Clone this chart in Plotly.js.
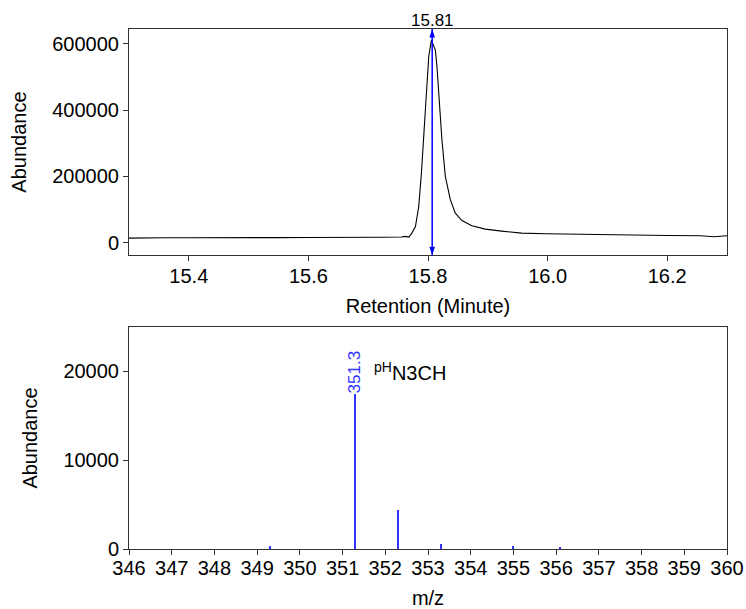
<!DOCTYPE html>
<html>
<head>
<meta charset="utf-8">
<script src="https://cdn.plot.ly/plotly-3.0.1.min.js"></script>
<style>
  html, body { margin: 0; padding: 0; background: #fff; }
  #chart { width: 746px; height: 609px; }
</style>
</head>
<body>
<div id="chart"></div>
<script>
// ---- Chromatogram (top panel) ----
const retentionTime = [
  15.300, 15.330, 15.360, 15.400, 15.450, 15.500, 15.550, 15.600, 15.640, 15.680,
  15.720, 15.755, 15.762, 15.768, 15.773, 15.779, 15.7845, 15.789, 15.7928, 15.7967,
  15.8012, 15.8057, 15.8095, 15.8123, 15.815, 15.819, 15.8233, 15.829, 15.8373, 15.8457,
  15.8567, 15.8733, 15.8957, 15.9233, 15.9567, 15.998, 16.030, 16.062, 16.068, 16.100,
  16.1457, 16.201, 16.256, 16.278, 16.300
];
const chromAbundance = [
  14000, 13500, 15000, 15000, 14500, 16000, 15500, 16000, 15500, 17000,
  16500, 17500, 19000, 17000, 29000, 49000, 109000, 210000, 330000, 451000,
  561000, 611000, 596000, 581000, 531000, 431000, 310000, 200000, 130000, 89000,
  67000, 51000, 41000, 35000, 29000, 27000, 26000, 25000, 26000, 24000,
  22000, 22000, 21000, 18000, 21000
];
const peakTime = 15.807;

// ---- Mass spectrum (bottom panel) ----
const mz = [349.3, 351.3, 352.3, 353.3, 355.0, 356.1];
const msAbundance = [340, 17400, 4430, 600, 300, 180];
const labelledPeak = 351.3;
const compoundLabel = '<sup>pH</sup>N3CH';

const xTicksTop = [15.4, 15.6, 15.8, 16.0, 16.2];
const yTicksTop = [0, 200000, 400000, 600000];
const xTicksBottom = [346, 347, 348, 349, 350, 351, 352, 353, 354, 355, 356, 357, 358, 359, 360];
const yTicksBottom = [0, 10000, 20000];

const FONT = 'Liberation Sans, Arial, Helvetica, sans-serif';
const AX = '#333333';
const yTopRange = [-37600, 644600];

const traces = [
  {
    type: 'scatter', mode: 'lines',
    x: retentionTime, y: chromAbundance,
    xaxis: 'x', yaxis: 'y',
    line: { color: '#000000', width: 1.1 },
    hoverinfo: 'x+y', showlegend: false
  },
  {
    // double-headed peak marker spanning the whole plot height
    type: 'scatter', mode: 'lines+markers',
    x: [peakTime, peakTime], y: yTopRange,
    xaxis: 'x', yaxis: 'y',
    line: { color: '#0000ff', width: 1.5 },
    marker: { symbol: 'arrow', angle: [180, 0], size: 9, color: '#0000ff', line: { width: 0 } },
    cliponaxis: false,
    hoverinfo: 'skip', showlegend: false
  },
  {
    type: 'bar',
    x: mz, y: msAbundance,
    xaxis: 'x2', yaxis: 'y2',
    width: 0.045,
    marker: { color: '#3333ff', line: { width: 0 } },
    showlegend: false
  }
];

const commonAxis = {
  showline: true, mirror: true, linecolor: AX, linewidth: 1,
  ticks: 'outside', ticklen: 5, tickwidth: 1, tickcolor: AX,
  showgrid: false, zeroline: false,
  tickfont: { family: FONT, size: 20, color: '#000' }
};

const layout = {
  width: 746, height: 609,
  margin: { l: 129, r: 19, t: 29, b: 60 },
  paper_bgcolor: '#ffffff', plot_bgcolor: '#ffffff',
  font: { family: FONT, size: 20, color: '#000' },
  showlegend: false,
  bargap: 0,
  xaxis: Object.assign({}, commonAxis, {
    domain: [0, 1], anchor: 'y',
    range: [15.3, 16.3],
    tickvals: xTicksTop, ticktext: xTicksTop.map(v => v.toFixed(1)),
    ticklabelstandoff: -2,
    title: { text: 'Retention (Minute)', font: { family: FONT, size: 20 }, standoff: 12 }
  }),
  yaxis: Object.assign({}, commonAxis, {
    domain: [0.565, 1], anchor: 'x',
    range: yTopRange,
    tickvals: yTicksTop, ticktext: yTicksTop.map(v => String(v)),
    title: { text: 'Abundance', font: { family: FONT, size: 20 }, standoff: 20 }
  }),
  xaxis2: Object.assign({}, commonAxis, {
    domain: [0, 1], anchor: 'y2',
    range: [346, 360],
    tickvals: xTicksBottom, ticktext: xTicksBottom.map(v => String(v)),
    ticklabelstandoff: -4,
    title: { text: 'm/z', font: { family: FONT, size: 20 }, standoff: 16 }
  }),
  yaxis2: Object.assign({}, commonAxis, {
    domain: [0, 0.4269], anchor: 'x2',
    range: [0, 25000],
    tickvals: yTicksBottom, ticktext: yTicksBottom.map(v => String(v)),
    title: { text: 'Abundance', font: { family: FONT, size: 20 }, standoff: 20 }
  }),
  annotations: [
    {
      xref: 'x', yref: 'y domain',
      x: peakTime, y: 1,
      xanchor: 'center', yanchor: 'bottom',
      text: peakTime.toFixed(2), showarrow: false,
      font: { family: FONT, size: 17, color: '#000' },
      yshift: -3
    },
    {
      xref: 'x2', yref: 'y2',
      x: labelledPeak, y: msAbundance[mz.indexOf(labelledPeak)],
      xanchor: 'center', yanchor: 'bottom',
      text: labelledPeak.toFixed(1), textangle: -90, showarrow: false,
      font: { family: FONT, size: 17, color: '#3333ff' },
      yshift: -1
    },
    {
      xref: 'x2', yref: 'y2',
      x: 351.68, y: 20000,
      xanchor: 'left', yanchor: 'middle',
      text: compoundLabel, showarrow: false,
      font: { family: FONT, size: 20, color: '#000' }
    }
  ]
};

Plotly.newPlot('chart', traces, layout, { displayModeBar: false, staticPlot: true });
</script>
</body>
</html>
